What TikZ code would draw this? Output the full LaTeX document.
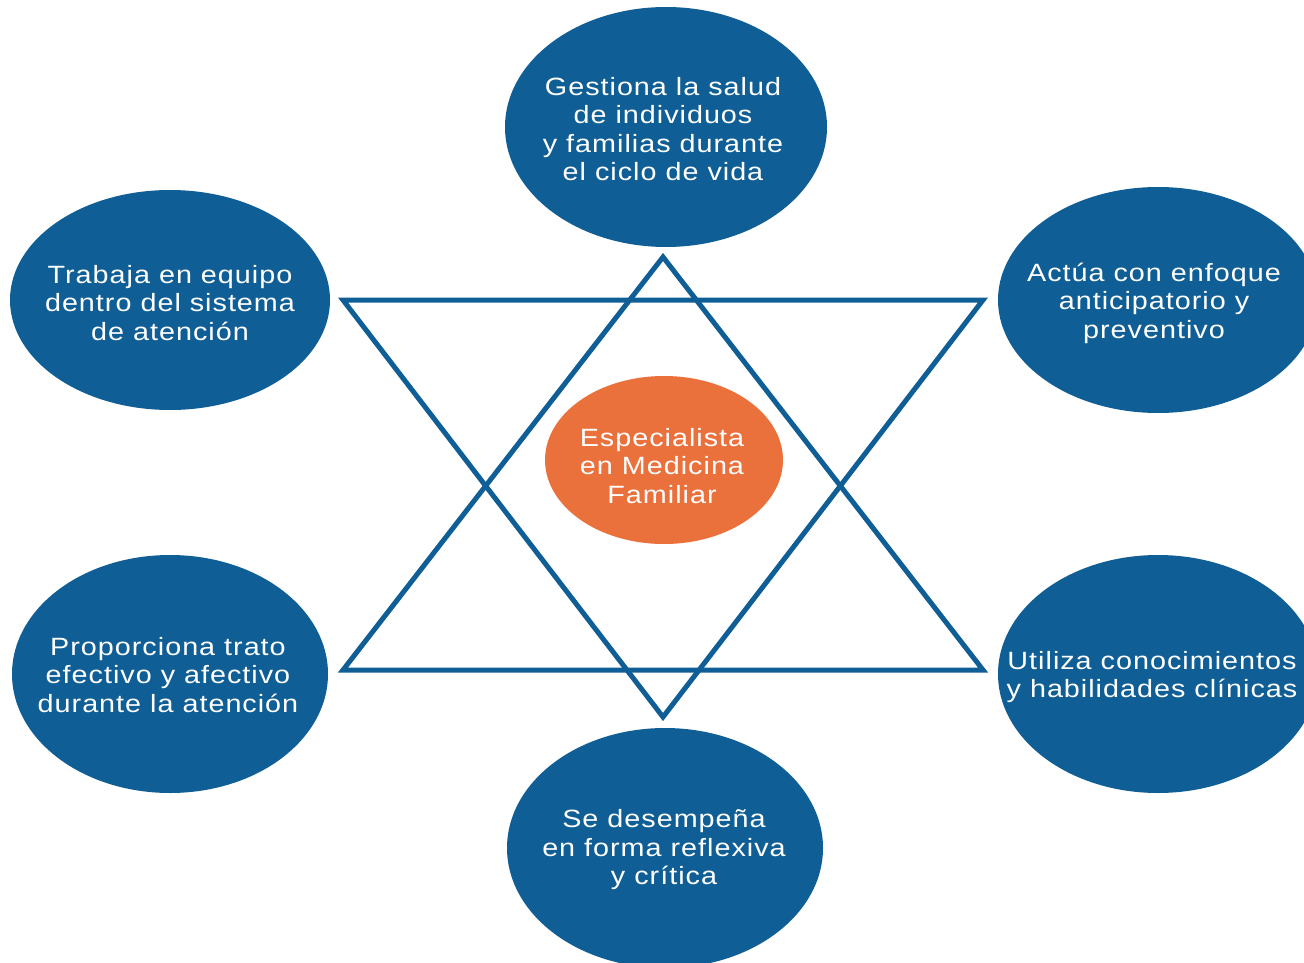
\documentclass[tikz,border=0pt]{standalone}
\usepackage{fontspec}
\setmainfont{Liberation Sans}[FakeStretch=1.15,LetterSpace=4]
\usetikzlibrary{shapes.geometric}
\definecolor{fmblue}{RGB}{16,94,150}
\definecolor{fmorange}{RGB}{234,112,60}
\begin{document}
\begin{tikzpicture}[x=1pt,y=-1pt,
  bubble/.style={ellipse, fill=fmblue, inner sep=0pt},
  core/.style={ellipse, fill=fmorange, inner sep=0pt},
  txt/.style={text=white, align=center, inner sep=0pt, font=\fontsize{25}{28.5}\selectfont},
  starline/.style={draw=fmblue, line width=5pt, line join=miter}]
\useasboundingbox (0,0) rectangle (1304,963);
\clip (0,0) rectangle (1304,963);
\fill[white] (0,0) rectangle (1304,963);
% star
\coordinate (ua) at (663,257);
\coordinate (ul) at (343,670);
\coordinate (ur) at (983,670);
\coordinate (dl) at (343,300);
\coordinate (dr) at (983,300);
\coordinate (da) at (663,717);
\draw[starline] (ua) -- (ul) -- (ur) -- cycle;
\draw[starline] (dl) -- (dr) -- (da) -- cycle;
% ellipses
\node[bubble, minimum width=322pt, minimum height=240pt] (top) at (666,127) {};
\node[bubble, minimum width=320pt, minimum height=220pt] (tl) at (170,300) {};
\node[bubble, minimum width=320pt, minimum height=226pt] (tr) at (1158,300) {};
\node[bubble, minimum width=316pt, minimum height=238pt] (bl) at (170,674) {};
\node[bubble, minimum width=320pt, minimum height=238pt] (br) at (1158,674) {};
\node[bubble, minimum width=316pt, minimum height=240pt] (bot) at (665,848) {};
\node[core, minimum width=238pt, minimum height=168pt] (mid) at (664,460) {};
% texts
\node[txt] (toptxt) at (663,129) {Gestiona la salud\\de individuos\\y familias durante\\el ciclo de vida};
\node[txt] (tltxt) at (170,303) {Trabaja en equipo\\dentro del sistema\\de atención};
\node[txt] (trtxt) at (1154,303) {Actúa con enfoque\\anticipatorio y\\preventivo};
\node[txt] (bltxt) at (168,675) {Proporciona trato\\efectivo y afectivo\\durante la atención};
\node[txt] (brtxt) at (1152,677) {Utiliza conocimientos\\y habilidades clínicas};
\node[txt] (bottxt) at (664,850) {Se desempeña\\en forma reflexiva\\y crítica};
\node[txt] (midtxt) at (662,466) {Especialista\\en Medicina\\Familiar};
\end{tikzpicture}
\end{document}
